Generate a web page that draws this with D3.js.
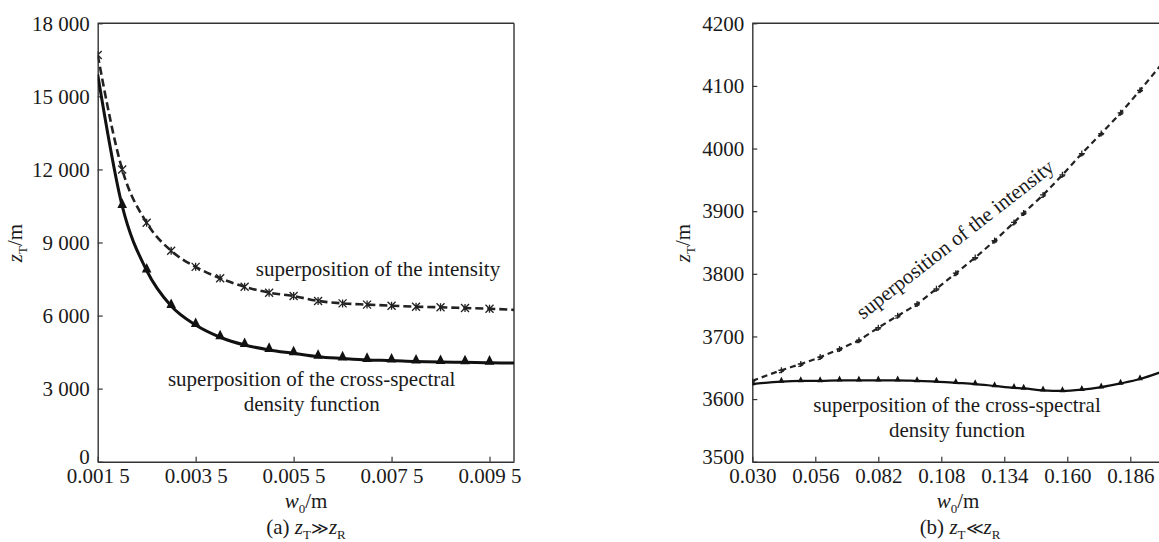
<!DOCTYPE html>
<html>
<head>
<meta charset="utf-8">
<script src="https://cdn.jsdelivr.net/npm/d3@7"></script>
<style>
  html, body { margin: 0; padding: 0; background: #fff; }
  svg { display: block; }
  svg text { font-family: "Liberation Serif", "Times New Roman", serif; }
</style>
</head>
<body>
<svg id="chart" width="1159" height="542"></svg>
<script>
// ---------- Data (a) z_T >> z_R ----------
const leftW0 = [0.0015, 0.002, 0.0025, 0.003, 0.0035, 0.004, 0.0045, 0.005, 0.0055, 0.006, 0.0065, 0.007, 0.0075, 0.008, 0.0085, 0.009, 0.0095, 0.0100];
const leftIntensity = [16700, 12000, 9810, 8660, 8000, 7530, 7185, 6940, 6800, 6600, 6500, 6450, 6405, 6365, 6340, 6310, 6280, 6235];
const leftCross = [15900, 10500, 7850, 6390, 5610, 5110, 4790, 4590, 4450, 4310, 4240, 4180, 4150, 4110, 4090, 4080, 4065, 4050];
const leftXTicks = [0.0015, 0.0035, 0.0055, 0.0075, 0.0095];
const leftXTickLabels = ["0.001 5", "0.003 5", "0.005 5", "0.007 5", "0.009 5"];
const leftYTicks = [0, 3000, 6000, 9000, 12000, 15000, 18000];
const leftYTickLabels = ["0", "3 000", "6 000", "9 000", "12 000", "15 000", "18 000"];

// ---------- Data (b) z_T << z_R ----------
const rightW0 = [0.030, 0.042, 0.050, 0.058, 0.066, 0.074, 0.082, 0.090, 0.098, 0.106, 0.114, 0.122, 0.130, 0.138, 0.142, 0.150, 0.158, 0.166, 0.174, 0.182, 0.190, 0.200];
const rightIntensity = [3629, 3646, 3656, 3667, 3680, 3694, 3714, 3733, 3752, 3776, 3801, 3826, 3853, 3882, 3897, 3926, 3958, 3992, 4024, 4057, 4093, 4140];
const rightCross = [3624, 3628, 3629, 3629, 3630, 3630, 3630, 3630, 3629, 3628, 3626, 3624, 3621, 3618, 3617, 3614, 3613, 3615, 3619, 3625, 3632, 3645];
const rightXTicks = [0.030, 0.056, 0.082, 0.108, 0.134, 0.160, 0.186];
const rightXTickLabels = ["0.030", "0.056", "0.082", "0.108", "0.134", "0.160", "0.186"];
const rightYTicks = [3500, 3600, 3700, 3800, 3900, 4000, 4100, 4200];
const rightYTickLabels = ["3500", "3600", "3700", "3800", "3900", "4000", "4100", "4200"];

const svg = d3.select("#chart");
const FONT = 21;
const INK = "#1a1a1a";
const SERIF = "'Liberation Serif', 'Times New Roman', serif";

function drawPanel(cfg) {
  const g = svg.append("g");
  const x = d3.scaleLinear().domain(cfg.xDomain).range([cfg.left, cfg.right]);
  const y = d3.scaleLinear().domain(cfg.yDomain).range([cfg.bottom, cfg.top]);

  const clipId = "clip-" + cfg.id;
  svg.append("clipPath").attr("id", clipId).append("rect")
    .attr("x", cfg.left).attr("y", cfg.top)
    .attr("width", cfg.right - cfg.left).attr("height", cfg.bottom - cfg.top);

  // frame (top + right)
  g.append("line").attr("x1", cfg.left).attr("x2", cfg.right).attr("y1", cfg.top).attr("y2", cfg.top)
    .attr("stroke", "#333").attr("stroke-width", 1.4);
  g.append("line").attr("x1", cfg.right).attr("x2", cfg.right).attr("y1", cfg.top).attr("y2", cfg.bottom)
    .attr("stroke", "#333").attr("stroke-width", 1.4);

  // axes
  const xa = g.append("g").attr("transform", `translate(0,${cfg.bottom})`)
    .call(d3.axisBottom(x).tickValues(cfg.xTicks).tickFormat((d, i) => cfg.xLabels[i])
      .tickSizeInner(-5).tickSizeOuter(0).tickPadding(6.5));
  const ya = g.append("g").attr("transform", `translate(${cfg.left},0)`)
    .call(d3.axisLeft(y).tickValues(cfg.yTicks).tickFormat((d, i) => cfg.yLabels[i])
      .tickSizeInner(-5).tickSizeOuter(0).tickPadding(8));
  [xa, ya].forEach(a => {
    a.attr("font-family", SERIF);
    a.selectAll("path.domain").attr("stroke", "#333").attr("stroke-width", 1.4);
    a.selectAll(".tick line").attr("stroke", "#333").attr("stroke-width", 1.2);
    a.selectAll("text").attr("font-size", FONT).attr("fill", INK).attr("font-family", SERIF);
  });
  ya.selectAll(".tick").filter(d => d === cfg.yDomain[0]).select("text").attr("dy", "0.08em");

  const plot = g.append("g").attr("clip-path", `url(#${clipId})`);
  const line = d3.line().x(d => x(d[0])).y(d => y(d[1])).curve(d3.curveMonotoneX);

  const crossPts = cfg.xs.map((v, i) => [v, cfg.cross[i]]);
  const intPts = cfg.xs.map((v, i) => [v, cfg.intensity[i]]);

  plot.append("path").datum(crossPts).attr("d", line).attr("fill", "none")
    .attr("stroke", "#111").attr("stroke-width", cfg.solidW);
  plot.append("path").datum(intPts).attr("d", line).attr("fill", "none")
    .attr("stroke", "#222").attr("stroke-width", cfg.dashW).attr("stroke-dasharray", cfg.dash);

  // triangle markers
  const t = cfg.triSize;
  plot.selectAll("path.tri").data(crossPts.filter((d, i) => cfg.triFilter(i, crossPts.length)))
    .join("path").attr("class", "tri")
    .attr("transform", d => `translate(${x(d[0])},${y(d[1])})`)
    .attr("d", `M0,${-t * 0.95}L${t * 0.6},${t * 0.25}L${-t * 0.6},${t * 0.25}Z`)
    .attr("fill", "#111");

  // star markers
  const s = cfg.starSize;
  plot.selectAll("path.star").data(intPts.filter((d, i) => cfg.starFilter(i, intPts.length)))
    .join("path").attr("class", "star")
    .attr("transform", d => `translate(${x(d[0])},${y(d[1])})`)
    .attr("d", cfg.starPath(s))
    .attr("fill", "none").attr("stroke", "#222").attr("stroke-width", 1.3);

  return { g, x, y };
}

function addTitle(g, cx, cy, rotate, main, sub, rest) {
  const tx = g.append("text").attr("font-size", FONT).attr("fill", INK).attr("font-family", SERIF)
    .attr("text-anchor", "middle")
    .attr("transform", `translate(${cx},${cy})` + (rotate ? " rotate(-90)" : ""));
  tx.append("tspan").attr("font-style", "italic").text(main);
  tx.append("tspan").attr("font-size", 13).attr("dy", 5).text(sub);
  tx.append("tspan").attr("dy", -5).text(rest);
  return tx;
}

function addCaption(g, cx, cy, tag, rel) {
  const tx = g.append("text").attr("font-size", FONT).attr("fill", INK).attr("font-family", SERIF)
    .attr("text-anchor", "middle").attr("x", cx).attr("y", cy);
  tx.append("tspan").text(tag + " ");
  tx.append("tspan").attr("font-style", "italic").text("z");
  tx.append("tspan").attr("font-size", 13).attr("dy", 5).text("T");
  tx.append("tspan").attr("dy", -5).attr("font-family", "'DejaVu Serif', serif").attr("font-size", 17).text(rel);
  tx.append("tspan").attr("font-style", "italic").text("z");
  tx.append("tspan").attr("font-size", 13).attr("dy", 5).text("R");
}

function addText(g, x, y, str, anchor, transform) {
  const t = g.append("text").attr("font-size", FONT).attr("fill", INK).attr("font-family", SERIF)
    .attr("text-anchor", anchor || "middle").text(str);
  if (transform) t.attr("transform", transform); else t.attr("x", x).attr("y", y);
  return t;
}

// ---------- Panel (a) ----------
const A = drawPanel({
  id: "a", left: 97.7, right: 514, top: 23.3, bottom: 461.7,
  xDomain: [0.0015, 0.0100], yDomain: [0, 18000],
  xTicks: leftXTicks, xLabels: leftXTickLabels, yTicks: leftYTicks, yLabels: leftYTickLabels,
  xs: leftW0, intensity: leftIntensity, cross: leftCross,
  solidW: 3, dashW: 2.6, dash: "8,4",
  triSize: 8, starSize: 4,
  triFilter: (i, n) => i > 0 && i < n - 1,
  starFilter: (i, n) => i < n - 1,
  starPath: s => `M${-s},${-s}L${s},${s}M${-s},${s}L${s},${-s}M0,${-s}L0,${s}`
});
addText(A.g, 378, 276, "superposition of the intensity");
addText(A.g, 311.7, 386, "superposition of the cross-spectral");
addText(A.g, 311.7, 410.5, "density function");
addTitle(A.g, 22, 243, true, "z", "T", "/m");
addTitle(A.g, 306, 508, false, "w", "0", "/m");
addCaption(A.g, 306, 534, "(a)", "\u226B");

// ---------- Panel (b) ----------
const B = drawPanel({
  id: "b", left: 752.3, right: 1164.2, top: 23.3, bottom: 461.7,
  xDomain: [0.030, 0.200], yDomain: [3500, 4200],
  xTicks: rightXTicks, xLabels: rightXTickLabels, yTicks: rightYTicks, yLabels: rightYTickLabels,
  xs: rightW0, intensity: rightIntensity, cross: rightCross,
  solidW: 2.2, dashW: 2.2, dash: "6,4",
  triSize: 5, starSize: 3,
  triFilter: (i, n) => i < n - 1,
  starFilter: (i, n) => i < n - 1,
  starPath: s => `M${-s},0L${s},0M0,${-s}L0,${s}M${-s * 0.8},${s * 0.9}L${s * 0.8},${s * 0.3}`
});
addText(B.g, 0, 0, "superposition of the intensity", "start", "translate(863,320) rotate(-38)");
addText(B.g, 957, 412, "superposition of the cross-spectral");
addText(B.g, 957, 436.5, "density function");
addTitle(B.g, 690, 243, true, "z", "T", "/m");
addTitle(B.g, 958, 508, false, "w", "0", "/m");
addCaption(B.g, 960, 534, "(b)", "\u226A");
</script>
</body>
</html>
